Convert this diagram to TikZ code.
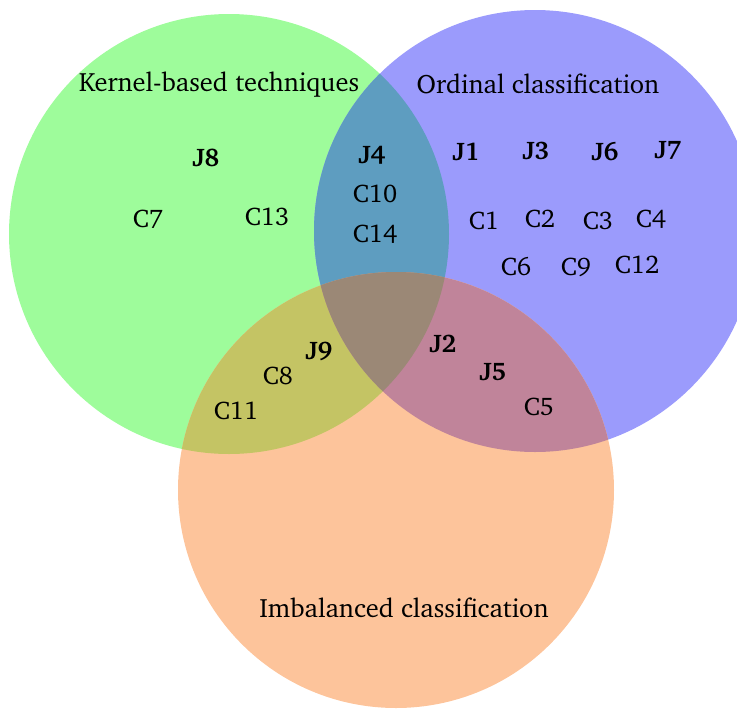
\documentclass[tikz,border=0pt]{standalone}
\usepackage[T1]{fontenc}
\usepackage{charter}
\definecolor{gonly}{HTML}{9EFC9B}
\definecolor{bonly}{HTML}{9B9BFC}
\definecolor{oonly}{HTML}{FDC49B}
\definecolor{gb}{HTML}{5E9DC0}
\definecolor{go}{HTML}{C4C464}
\definecolor{bo}{HTML}{C0849A}
\definecolor{gbo}{HTML}{9B8876}
\tikzset{
  setlabel/.style={font=\fontsize{26.5}{30}\selectfont, inner sep=0pt},
  paper/.style={font=\fontsize{25.5}{30}\selectfont, inner sep=0pt},
  journal/.style={font=\fontsize{25.5}{30}\selectfont\bfseries, inner sep=0pt},
}
\begin{document}
\begin{tikzpicture}[x=1pt, y=-1pt]
\useasboundingbox (0,0) rectangle (737,713);
% circle centres and radii
\def\gcirc{(229,234) circle[radius=220]}
\def\bcirc{(535,231) circle[radius=221]}
\def\ocirc{(396,490) circle[radius=218]}
% single sets
\fill[gonly] \gcirc;
\fill[bonly] \bcirc;
\fill[oonly] \ocirc;
% pairwise overlaps
\begin{scope}
  \clip \gcirc;
  \fill[gb] \bcirc;
  \fill[go] \ocirc;
\end{scope}
\begin{scope}
  \clip \bcirc;
  \fill[bo] \ocirc;
\end{scope}
% triple overlap
\begin{scope}
  \clip \gcirc;
  \clip \bcirc;
  \fill[gbo] \ocirc;
\end{scope}
% set titles
\node[setlabel] (kernel) at (219,84) {Kernel-based techniques};
\node[setlabel] (ordinal) at (538,84) {Ordinal classification};
\node[setlabel] (imbal) at (404,608) {Imbalanced classification};
% kernel only
\node[journal] (j8) at (206,158) {J8};
\node[paper] (c7) at (148,219) {C7};
\node[paper] (c13) at (267,217) {C13};
% kernel and ordinal
\node[journal] (j4) at (372,155) {J4};
\node[paper] (c10) at (375,194) {C10};
\node[paper] (c14) at (375,234) {C14};
% ordinal only
\node[journal] (j1) at (466,152) {J1};
\node[journal] (j3) at (536,151) {J3};
\node[journal] (j6) at (605,151) {J6};
\node[journal] (j7) at (668,150) {J7};
\node[paper] (c1) at (484,221) {C1};
\node[paper] (c2) at (540,219) {C2};
\node[paper] (c3) at (598,221) {C3};
\node[paper] (c4) at (651,219) {C4};
\node[paper] (c6) at (516,267) {C6};
\node[paper] (c9) at (576,267) {C9};
\node[paper] (c12) at (637,265) {C12};
% kernel and imbalanced
\node[journal] (j9) at (319,351) {J9};
\node[paper] (c8) at (278,376) {C8};
\node[paper] (c11) at (236,411) {C11};
% ordinal and imbalanced
\node[journal] (j2) at (443,344) {J2};
\node[journal] (j5) at (493,372) {J5};
\node[paper] (c5) at (539,407) {C5};
\end{tikzpicture}
\end{document}
